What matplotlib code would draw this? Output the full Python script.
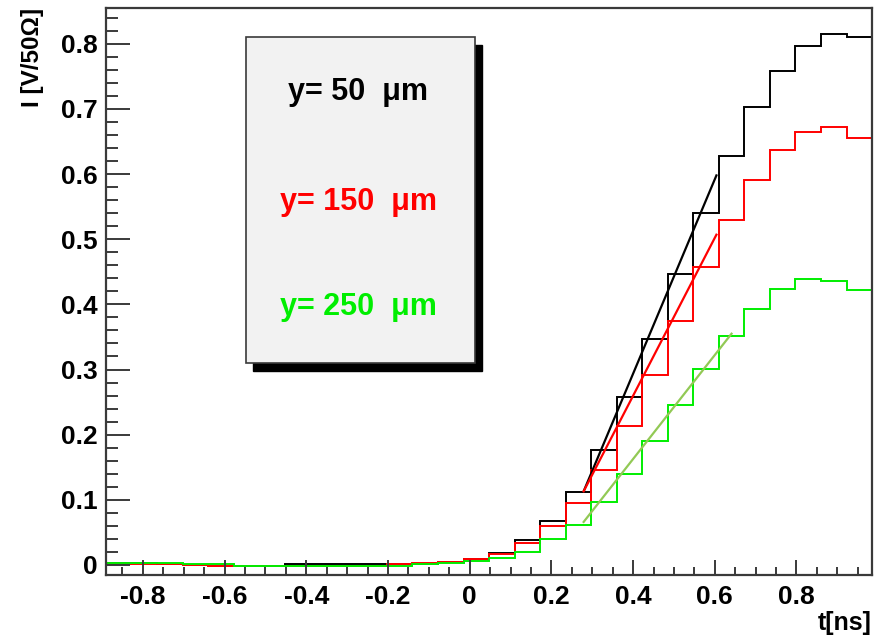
import numpy as np
import matplotlib
matplotlib.use('Agg')
import matplotlib.pyplot as plt
from matplotlib.patches import Rectangle
from matplotlib.ticker import MultipleLocator

plt.rcParams['font.family'] = ['Liberation Sans', 'DejaVu Sans']
plt.rcParams['font.weight'] = 'bold'

# histogram binning (30 bins)
t_min = -0.89
bin_w = 0.0625
n_bins = 30

# signal current per bin
i_50 = [0.003, 0.003, 0.002, 0.0, -0.001, -0.001, -0.001, 0.001, 0.001, 0.001,
        0.001, 0.001, 0.002, 0.004, 0.009, 0.019, 0.038, 0.068, 0.112, 0.177,
        0.258, 0.347, 0.447, 0.541, 0.628, 0.703, 0.759, 0.797, 0.815, 0.810]
i_150 = [0.002, 0.002, 0.001, 0.0, -0.001, -0.001, -0.001, -0.001, -0.001, -0.001,
         -0.001, 0.001, 0.0035, 0.005, 0.0086, 0.017, 0.033, 0.060, 0.0955, 0.146,
         0.214, 0.291, 0.374, 0.457, 0.529, 0.591, 0.637, 0.664, 0.672, 0.655]
i_250 = [0.0035, 0.0035, 0.0035, 0.001, 0.001, -0.001, -0.001, -0.001, -0.001, -0.001,
         -0.001, -0.001, 0.002, 0.003, 0.006, 0.0103, 0.0198, 0.040, 0.061, 0.096,
         0.139, 0.190, 0.245, 0.301, 0.352, 0.393, 0.424, 0.439, 0.4365, 0.422]

# linear fits of the rising edge (start, end)
fit_t_50 = [0.279, 0.604]
fit_i_50 = [0.113, 0.598]
fit_t_150 = [0.279, 0.604]
fit_i_150 = [0.113, 0.507]
fit_t_250 = [0.279, 0.641]
fit_i_250 = [0.066, 0.355]

labels = ['y= 50  μm', 'y= 150  μm', 'y= 250  μm']
colors = ['black', '#ff0000', '#00ee00']
fit_colors = ['black', '#ff0000', '#92c955']

edges = t_min + bin_w * np.arange(n_bins + 1)

fig = plt.figure(figsize=(8.8, 6.37), dpi=100)
ax = fig.add_axes([0.1205, 0.0973, 0.8705, 0.8901])

for vals, c in zip([i_50, i_150, i_250], colors):
    ax.stairs(vals, edges, baseline=None, color=c, lw=1.4)

for tt, ii, c in zip([fit_t_50, fit_t_150, fit_t_250],
                     [fit_i_50, fit_i_150, fit_i_250], fit_colors):
    ax.plot(tt, ii, color=c, lw=1.6)

ax.set_xlim(edges[0], edges[-1])
ax.set_ylim(-0.0155, 0.855)

frame = '#3a3a3a'
for s in ax.spines.values():
    s.set_color(frame)
    s.set_linewidth(1.6)

ax.xaxis.set_major_locator(MultipleLocator(0.2))
ax.xaxis.set_minor_locator(MultipleLocator(0.05))
ax.yaxis.set_major_locator(MultipleLocator(0.1))
ax.yaxis.set_minor_locator(MultipleLocator(0.02))
ax.tick_params(axis='both', which='both', direction='in', color=frame,
               top=False, right=False, width=1.4)
ax.tick_params(axis='x', which='major', length=11, pad=7, labelsize=19)
ax.tick_params(axis='x', which='minor', length=6)
ax.tick_params(axis='y', which='major', length=17, pad=6, labelsize=19)
ax.tick_params(axis='y', which='minor', length=8.5)

def fmt(v):
    s = '%g' % round(v, 2)
    return s

ax.set_xticks(ax.get_xticks())
ax.set_xticklabels([fmt(v) for v in ax.get_xticks()])
ax.set_xlim(edges[0], edges[-1])
ax.set_yticks(np.arange(0, 0.81, 0.1))
ax.set_yticklabels([fmt(v) for v in np.arange(0, 0.81, 0.1)])

# axis titles, ROOT style at the end of the axes
fig.text(0.037, 0.987, 'I [V/50Ω]', rotation=90, ha='center', va='top',
         fontsize=17.5, fontweight='bold')
fig.text(0.991, 0.003, 't[ns]', ha='right', va='bottom',
         fontsize=18, fontweight='bold')

# legend pave with shadow
bx, by, bw, bh = 0.1828, 0.3739, 0.2989, 0.575
dx = 7 / 766
dy = 8 / 567
ax.add_patch(Rectangle((bx + dx, by - dy), bw, bh, transform=ax.transAxes,
                       facecolor='black', edgecolor='black', zorder=5))
ax.add_patch(Rectangle((bx, by), bw, bh, transform=ax.transAxes,
                       facecolor='#f2f2f2', edgecolor=frame, lw=1.2, zorder=6))
for lab, c, yy in zip(labels, colors, [0.852, 0.658, 0.473]):
    ax.text(0.329, yy, lab, transform=ax.transAxes, ha='center', va='center',
            color=c, fontsize=22, fontweight='bold', zorder=7)

fig.savefig('out.png', dpi=100)
